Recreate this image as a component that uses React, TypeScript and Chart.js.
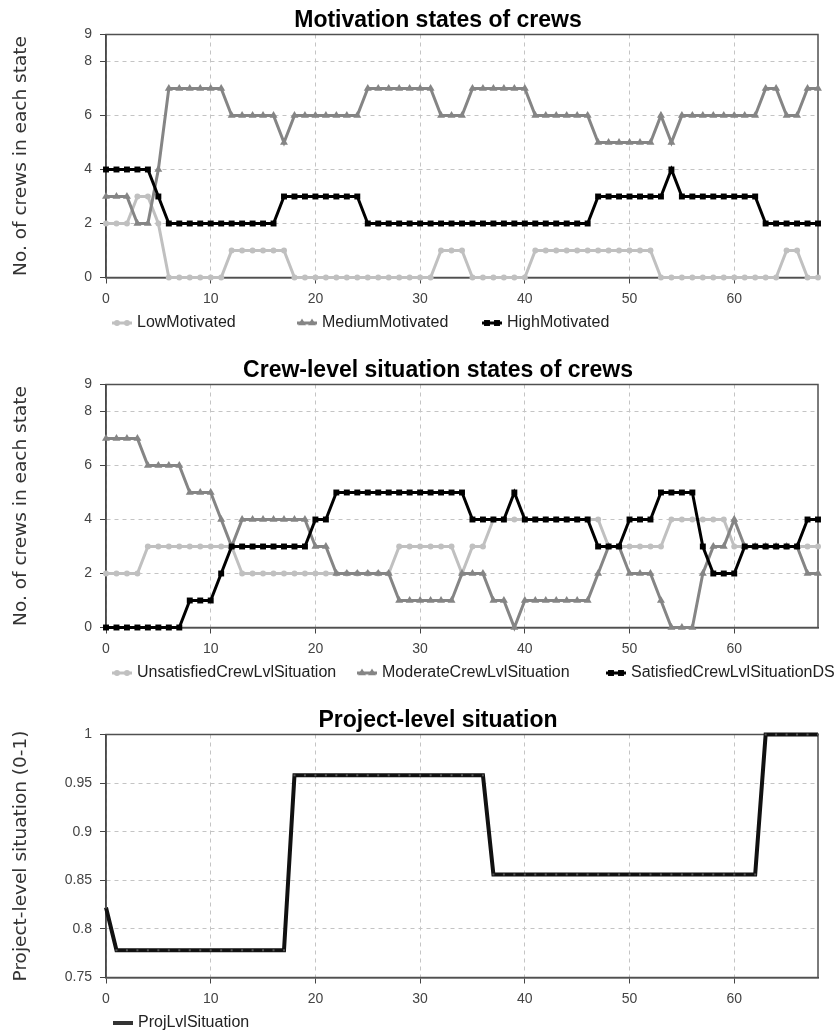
import React, { useEffect, useRef } from 'react';
import { Chart, registerables } from 'chart.js';

Chart.register(...registerables);

// ---------- data ----------
const TIME = [
  0, 1, 2, 3, 4, 5, 6, 7, 8, 9, 10, 11, 12, 13, 14, 15, 16, 17, 18, 19, 20, 21, 22, 23, 24,
  25, 26, 27, 28, 29, 30, 31, 32, 33, 34, 35, 36, 37, 38, 39, 40, 41, 42, 43, 44, 45, 46, 47,
  48, 49, 50, 51, 52, 53, 54, 55, 56, 57, 58, 59, 60, 61, 62, 63, 64, 65, 66, 67, 68,
];

const LOW_MOTIVATED = [
  2, 2, 2, 3, 3, 2, 0, 0, 0, 0, 0, 0, 1, 1, 1, 1, 1, 1, 0, 0, 0, 0, 0, 0, 0,
  0, 0, 0, 0, 0, 0, 0, 1, 1, 1, 0, 0, 0, 0, 0, 0, 1, 1, 1, 1, 1, 1, 1,
  1, 1, 1, 1, 1, 0, 0, 0, 0, 0, 0, 0, 0, 0, 0, 0, 0, 1, 1, 0, 0,
];
const MEDIUM_MOTIVATED = [
  3, 3, 3, 2, 2, 4, 7, 7, 7, 7, 7, 7, 6, 6, 6, 6, 6, 5, 6, 6, 6, 6, 6, 6, 6,
  7, 7, 7, 7, 7, 7, 7, 6, 6, 6, 7, 7, 7, 7, 7, 7, 6, 6, 6, 6, 6, 6, 5,
  5, 5, 5, 5, 5, 6, 5, 6, 6, 6, 6, 6, 6, 6, 6, 7, 7, 6, 6, 7, 7,
];
const HIGH_MOTIVATED = [
  4, 4, 4, 4, 4, 3, 2, 2, 2, 2, 2, 2, 2, 2, 2, 2, 2, 3, 3, 3, 3, 3, 3, 3, 3,
  2, 2, 2, 2, 2, 2, 2, 2, 2, 2, 2, 2, 2, 2, 2, 2, 2, 2, 2, 2, 2, 2, 3,
  3, 3, 3, 3, 3, 3, 4, 3, 3, 3, 3, 3, 3, 3, 3, 2, 2, 2, 2, 2, 2,
];

const UNSATISFIED = [
  2, 2, 2, 2, 3, 3, 3, 3, 3, 3, 3, 3, 3, 2, 2, 2, 2, 2, 2, 2, 2, 2, 2, 2, 2,
  2, 2, 2, 3, 3, 3, 3, 3, 3, 2, 3, 3, 4, 4, 4, 4, 4, 4, 4, 4, 4, 4, 4,
  3, 3, 3, 3, 3, 3, 4, 4, 4, 4, 4, 4, 3, 3, 3, 3, 3, 3, 3, 3, 3,
];
const MODERATE = [
  7, 7, 7, 7, 6, 6, 6, 6, 5, 5, 5, 4, 3, 4, 4, 4, 4, 4, 4, 4, 3, 3, 2, 2, 2,
  2, 2, 2, 1, 1, 1, 1, 1, 1, 2, 2, 2, 1, 1, 0, 1, 1, 1, 1, 1, 1, 1, 2,
  3, 3, 2, 2, 2, 1, 0, 0, 0, 2, 3, 3, 4, 3, 3, 3, 3, 3, 3, 2, 2,
];
const SATISFIED = [
  0, 0, 0, 0, 0, 0, 0, 0, 1, 1, 1, 2, 3, 3, 3, 3, 3, 3, 3, 3, 4, 4, 5, 5, 5,
  5, 5, 5, 5, 5, 5, 5, 5, 5, 5, 4, 4, 4, 4, 5, 4, 4, 4, 4, 4, 4, 4, 3,
  3, 3, 4, 4, 4, 5, 5, 5, 5, 3, 2, 2, 2, 3, 3, 3, 3, 3, 3, 4, 4,
];

const PROJ_LEVEL = [
  0.822, 0.778, 0.778, 0.778, 0.778, 0.778, 0.778, 0.778, 0.778, 0.778, 0.778, 0.778, 0.778,
  0.778, 0.778, 0.778, 0.778, 0.778, 0.958, 0.958, 0.958, 0.958, 0.958, 0.958, 0.958, 0.958,
  0.958, 0.958, 0.958, 0.958, 0.958, 0.958, 0.958, 0.958, 0.958, 0.958, 0.958, 0.856, 0.856,
  0.856, 0.856, 0.856, 0.856, 0.856, 0.856, 0.856, 0.856, 0.856, 0.856, 0.856, 0.856, 0.856,
  0.856, 0.856, 0.856, 0.856, 0.856, 0.856, 0.856, 0.856, 0.856, 0.856, 0.856, 1, 1, 1, 1, 1, 1,
];

const CREW_Y_TICKS = [0, 2, 4, 6, 8, 9];
const PROJ_Y_TICKS = [0.75, 0.8, 0.85, 0.9, 0.95, 1];
const X_TICK_STEP = 10;

// ---------- styling ----------
const CANVAS_W = 876;
const CANVAS_H = 350;
const Y_AXIS_W = 106;
const RIGHT_SPACE = 58;
const X_AXIS_H = 30;
const BOTTOM_PAD = 42.5;
const LEGEND_OFFSET = 45.5;

const LIGHT = '#c0c0c0';
const MID = '#858585';
const DARK = '#000000';
const GRID = '#c4c4c4';
const TICK_COLOR = '#444444';
const TICK_FONT = { family: "'Liberation Sans', Arial, sans-serif", size: 14 };
const LEGEND_FONT = "16px 'Liberation Sans', Arial, sans-serif";

const R_CIRCLE = 3;
const R_TRIANGLE = 4.6;
const R_RECT = 4.2;

type LegendItem = {
  text: string;
  color: string;
  lineWidth: number;
  x: number;
  pointStyle?: string;
  radius?: number;
};

function drawMarker(ctx: CanvasRenderingContext2D, style: string, x: number, y: number, r: number) {
  ctx.beginPath();
  if (style === 'circle') {
    ctx.arc(x, y, r, 0, Math.PI * 2);
  } else if (style === 'rect') {
    const s = r * Math.SQRT1_2;
    ctx.rect(x - s, y - s, 2 * s, 2 * s);
  } else if (style === 'triangle') {
    let a = 0;
    ctx.moveTo(x + Math.sin(a) * r, y - Math.cos(a) * r);
    a += (2 * Math.PI) / 3;
    ctx.lineTo(x + Math.sin(a) * r, y - Math.cos(a) * r);
    a += (2 * Math.PI) / 3;
    ctx.lineTo(x + Math.sin(a) * r, y - Math.cos(a) * r);
    ctx.closePath();
  }
  ctx.fill();
}

function makeLegendPlugin(items: LegendItem[]) {
  return {
    id: 'bottomLegend',
    afterDraw(chart: any) {
      const { ctx, chartArea } = chart;
      const y = chartArea.bottom + LEGEND_OFFSET;
      ctx.save();
      ctx.setLineDash([]);
      for (const it of items) {
        ctx.strokeStyle = it.color;
        ctx.fillStyle = it.color;
        ctx.lineWidth = it.lineWidth;
        ctx.beginPath();
        ctx.moveTo(it.x, y);
        ctx.lineTo(it.x + 20, y);
        ctx.stroke();
        if (it.pointStyle) {
          drawMarker(ctx, it.pointStyle, it.x + 5, y, it.radius || 3);
          drawMarker(ctx, it.pointStyle, it.x + 15, y, it.radius || 3);
        }
        ctx.fillStyle = '#222222';
        ctx.font = LEGEND_FONT;
        ctx.textAlign = 'left';
        ctx.textBaseline = 'middle';
        ctx.fillText(it.text, it.x + 25, y);
      }
      ctx.restore();
    },
  };
}

const framePlugin = {
  id: 'plotFrame',
  beforeDatasetsDraw(chart: any) {
    const { ctx, chartArea } = chart;
    ctx.save();
    ctx.setLineDash([]);
    ctx.strokeStyle = '#505050';
    ctx.lineWidth = 1.5;
    ctx.strokeRect(chartArea.left, chartArea.top, chartArea.right - chartArea.left, chartArea.bottom - chartArea.top);
    ctx.restore();
  },
};

function series(label: string, data: number[], color: string, pointStyle: string, radius: number, order: number) {
  return {
    label,
    data,
    borderColor: color,
    backgroundColor: color,
    pointBackgroundColor: color,
    pointBorderColor: color,
    pointBorderWidth: 0,
    pointStyle,
    pointRadius: radius,
    pointHoverRadius: radius,
    borderWidth: 3,
    tension: 0,
    clip: false,
    order,
  };
}

function baseOptions(title: string, yTitle: string, yMin: number, yMax: number, yTicks: number[], fmt?: (v: number) => string) {
  const gridCommon = {
    color: GRID,
    lineWidth: 1,
    drawTicks: true,
    tickLength: 6,
    tickColor: TICK_COLOR,
    tickWidth: 1,
  };
  const borderCommon = { display: true, color: '#333333', width: 1.5, dash: [4, 4] };
  return {
    responsive: false,
    animation: false,
    devicePixelRatio: 1,
    events: [],
    layout: { padding: { left: 0, right: 0, top: 0, bottom: BOTTOM_PAD } },
    plugins: {
      legend: { display: false },
      tooltip: { enabled: false },
      title: {
        display: true,
        text: title,
        color: '#000000',
        font: { family: "'Liberation Sans', Arial, sans-serif", size: 23, weight: 'bold', lineHeight: 1 },
        padding: { top: 9, bottom: 2.5 },
      },
    },
    scales: {
      x: {
        type: 'linear',
        min: TIME[0],
        max: TIME[TIME.length - 1],
        afterFit: (s: any) => {
          s.height = X_AXIS_H;
        },
        grid: gridCommon,
        border: borderCommon,
        ticks: {
          stepSize: X_TICK_STEP,
          includeBounds: false,
          padding: 7,
          color: TICK_COLOR,
          font: TICK_FONT,
          maxRotation: 0,
        },
      },
      y: {
        type: 'linear',
        min: yMin,
        max: yMax,
        afterFit: (s: any) => {
          s.width = Y_AXIS_W;
        },
        afterBuildTicks: (s: any) => {
          s.ticks = yTicks.map((v) => ({ value: v }));
        },
        grid: gridCommon,
        border: borderCommon,
        ticks: {
          padding: 8,
          color: TICK_COLOR,
          font: TICK_FONT,
          callback: fmt ? (v: any) => fmt(Number(v)) : (v: any) => String(v),
        },
        title: {
          display: true,
          text: yTitle,
          color: '#333333',
          font: { family: "'DejaVu Sans', sans-serif", size: 18.5 },
          padding: { top: 10, bottom: 0 },
        },
      },
      yRight: {
        position: 'right',
        display: true,
        grid: { display: false, drawTicks: false },
        ticks: { display: false },
        border: { display: false },
        afterFit: (s: any) => {
          s.width = RIGHT_SPACE;
        },
      },
    },
  };
}

function buildMotivation(): any {
  return {
    type: 'line',
    data: {
      labels: TIME,
      datasets: [
        series('LowMotivated', LOW_MOTIVATED, LIGHT, 'circle', R_CIRCLE, 2),
        series('MediumMotivated', MEDIUM_MOTIVATED, MID, 'triangle', R_TRIANGLE, 1),
        series('HighMotivated', HIGH_MOTIVATED, DARK, 'rect', R_RECT, 0),
      ],
    },
    options: baseOptions('Motivation states of crews', 'No. of crews in each state', 0, 9, CREW_Y_TICKS),
    plugins: [
      framePlugin,
      makeLegendPlugin([
        { text: 'LowMotivated', color: LIGHT, lineWidth: 3, x: 112, pointStyle: 'circle', radius: R_CIRCLE },
        { text: 'MediumMotivated', color: MID, lineWidth: 3, x: 297, pointStyle: 'triangle', radius: R_TRIANGLE },
        { text: 'HighMotivated', color: DARK, lineWidth: 3, x: 482, pointStyle: 'rect', radius: R_RECT },
      ]),
    ],
  };
}

function buildCrewLevel(): any {
  return {
    type: 'line',
    data: {
      labels: TIME,
      datasets: [
        series('UnsatisfiedCrewLvlSituation', UNSATISFIED, LIGHT, 'circle', R_CIRCLE, 2),
        series('ModerateCrewLvlSituation', MODERATE, MID, 'triangle', R_TRIANGLE, 1),
        series('SatisfiedCrewLvlSituationDS', SATISFIED, DARK, 'rect', R_RECT, 0),
      ],
    },
    options: baseOptions('Crew-level situation states of crews', 'No. of crews in each state', 0, 9, CREW_Y_TICKS),
    plugins: [
      framePlugin,
      makeLegendPlugin([
        { text: 'UnsatisfiedCrewLvlSituation', color: LIGHT, lineWidth: 3, x: 112, pointStyle: 'circle', radius: R_CIRCLE },
        { text: 'ModerateCrewLvlSituation', color: MID, lineWidth: 3, x: 357, pointStyle: 'triangle', radius: R_TRIANGLE },
        { text: 'SatisfiedCrewLvlSituationDS', color: DARK, lineWidth: 3, x: 606, pointStyle: 'rect', radius: R_RECT },
      ]),
    ],
  };
}

function buildProject(): any {
  return {
    type: 'line',
    data: {
      labels: TIME,
      datasets: [
        {
          label: 'ProjLvlSituation',
          data: PROJ_LEVEL,
          borderColor: '#111111',
          backgroundColor: '#111111',
          borderWidth: 4,
          pointStyle: 'rect',
          pointRadius: 1.4,
          pointHoverRadius: 1.4,
          pointBackgroundColor: '#555555',
          pointBorderWidth: 0,
          tension: 0,
          clip: false,
        },
      ],
    },
    options: baseOptions(
      'Project-level situation',
      'Project-level situation (0-1)',
      0.75,
      1,
      PROJ_Y_TICKS,
      (v: number) => String(Number(v.toFixed(2)))
    ),
    plugins: [
      framePlugin,
      makeLegendPlugin([{ text: 'ProjLvlSituation', color: '#333333', lineWidth: 4, x: 113 }]),
    ],
  };
}

function ChartPanel({ top, build }: { top: number; build: () => any }) {
  const ref = useRef<HTMLCanvasElement | null>(null);
  useEffect(() => {
    if (!ref.current) return;
    const chart = new Chart(ref.current, build());
    return () => chart.destroy();
  }, [build]);
  return (
    <canvas
      ref={ref}
      width={CANVAS_W}
      height={CANVAS_H}
      style={{ position: 'absolute', left: 0, top, width: CANVAS_W, height: CANVAS_H, display: 'block' }}
    />
  );
}

export default function App() {
  return (
    <div
      style={{
        position: 'absolute',
        left: 0,
        top: 0,
        width: 839,
        height: 1034,
        overflow: 'hidden',
        background: '#ffffff',
      }}
    >
      <ChartPanel top={0} build={buildMotivation} />
      <ChartPanel top={350} build={buildCrewLevel} />
      <ChartPanel top={700} build={buildProject} />
    </div>
  );
}
